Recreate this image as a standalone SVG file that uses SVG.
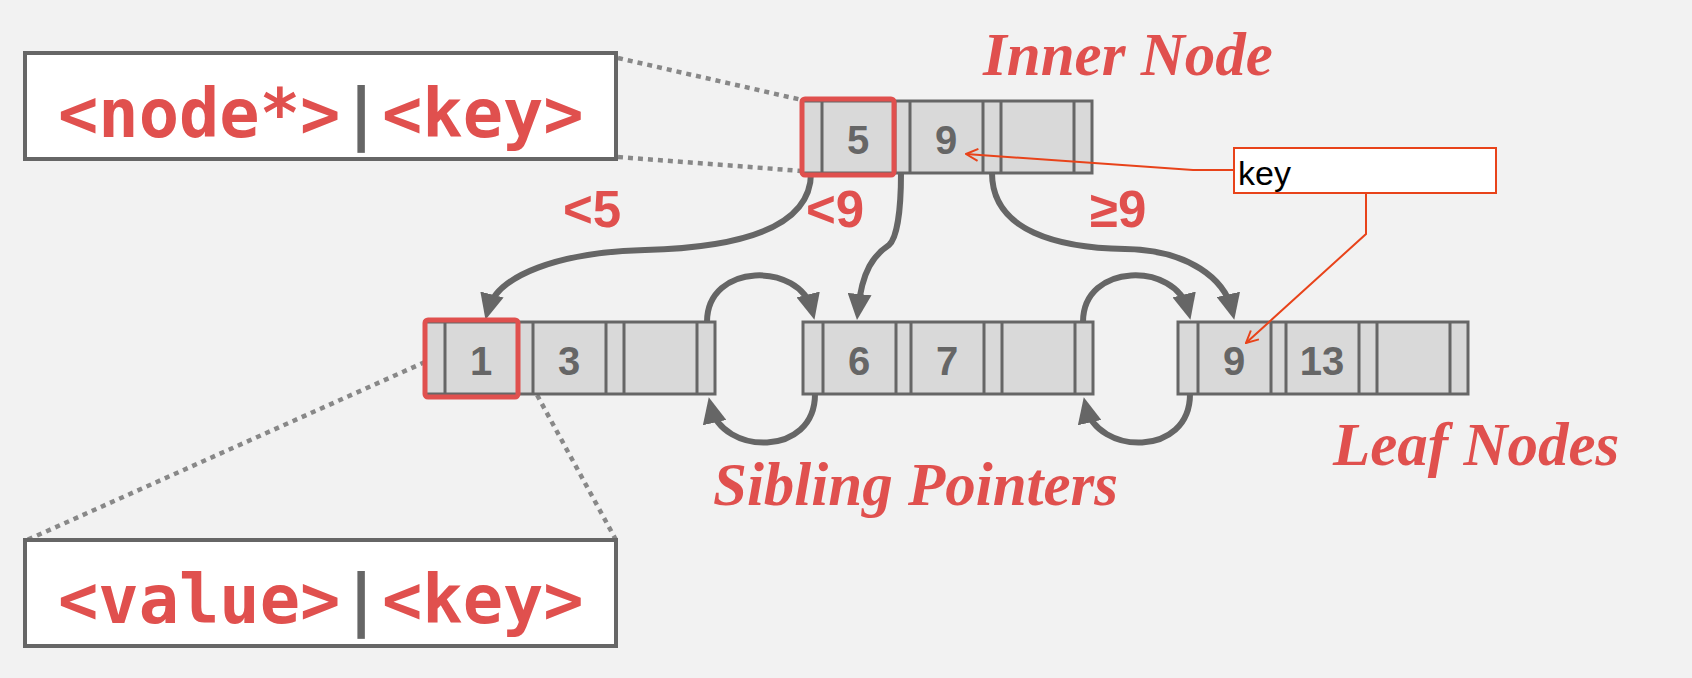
<svg xmlns="http://www.w3.org/2000/svg" width="1692" height="678" viewBox="0 0 1692 678">
<style>
.bg{fill:#f2f2f2}
.cell{fill:#d9d9d9;stroke:#666;stroke-width:3}
.div{stroke:#666;stroke-width:3}
.num{font-family:"Liberation Sans",Arial,sans-serif;font-weight:bold;font-size:40px;fill:#666;text-anchor:middle}
.hl{fill:none;stroke:#e0504e;stroke-width:5}
.conn{fill:none;stroke:#666;stroke-width:6}
.dot{fill:none;stroke:#888;stroke-width:4.5;stroke-dasharray:5 5}
.title{font-family:"Liberation Serif","Times New Roman",serif;font-weight:bold;font-style:italic;font-size:61px;fill:#e0504e}
.lbl{font-family:"Liberation Sans",Arial,sans-serif;font-weight:bold;font-size:51px;fill:#e0504e}
.box{fill:#fff;stroke:#666;stroke-width:4}
.mono{font-family:"DejaVu Sans Mono","Liberation Mono",monospace;font-weight:bold;font-size:67px;fill:#e0504e}
.bar{font-family:"DejaVu Sans Mono","Liberation Mono",monospace;font-weight:bold;font-size:67px;fill:#666}
.note{fill:#fff;stroke:#e8431a;stroke-width:2}
.noteline{fill:none;stroke:#e8431a;stroke-width:2}
.notetext{font-family:"Liberation Sans",Arial,sans-serif;font-size:34px;fill:#000}
</style>
<defs>
<marker id="arr" viewBox="0 0 26 24" markerWidth="26" markerHeight="24" refX="16" refY="12" orient="auto" markerUnits="userSpaceOnUse">
<path d="M0,0 L26,12 L0,24 Z" fill="#666"/>
</marker>
<marker id="arrO" viewBox="0 0 14 14" markerWidth="14" markerHeight="14" refX="13" refY="7" orient="auto" markerUnits="userSpaceOnUse">
<path d="M1,1 L13,7 L1,13" fill="none" stroke="#e8431a" stroke-width="2"/>
</marker>
<g id="bnode">
<rect class="cell" x="0" y="0" width="290" height="72"/>
<path class="div" d="M20,0V72M93,0V72M108,0V72M181,0V72M199,0V72M272,0V72"/>
</g>
</defs>
<rect class="bg" x="0" y="0" width="1692" height="678"/>

<g id="dotted-guides">
<path class="dot" d="M618,58 L802,100"/>
<path class="dot" d="M618,157 L802,171"/>
<path class="dot" d="M425,362 L27,540"/>
<path class="dot" d="M518,360 L616,540"/>
</g>

<g id="box-inner-entry">
<rect class="box" x="25" y="53" width="591" height="106"/>
<text class="mono" x="58" y="137">&lt;node*&gt;</text>
<text class="bar" x="341" y="137">|</text>
<text class="mono" x="382" y="137">&lt;key&gt;</text>
</g>

<g id="box-leaf-entry">
<rect class="box" x="25" y="540" width="591" height="106"/>
<text class="mono" x="58" y="623">&lt;value&gt;</text>
<text class="bar" x="341" y="623">|</text>
<text class="mono" x="382" y="623">&lt;key&gt;</text>
</g>

<g id="connectors">
<path class="conn" marker-end="url(#arr)" d="M811,173 C811,235 720,248 645,250 C560,252 497,275 488,310"/>
<path class="conn" marker-end="url(#arr)" d="M901,173 C901,210 897,238 889,245 C874,255 862,270 858,310"/>
<path class="conn" marker-end="url(#arr)" d="M992,173 C992,232 1060,248 1125,249 C1190,250 1225,280 1232,310"/>
<path class="conn" marker-end="url(#arr)" d="M707,322 C707,262 800,262 812,310"/>
<path class="conn" marker-end="url(#arr)" d="M1083,322 C1083,262 1176,262 1188,310"/>
<path class="conn" marker-end="url(#arr)" d="M815,394 C815,458 722,455 711,407"/>
<path class="conn" marker-end="url(#arr)" d="M1190,394 C1190,458 1097,455 1086,407"/>
</g>

<g id="node-inner">
<use href="#bnode" x="802" y="101"/>
<text class="num" x="858" y="154">5</text>
<text class="num" x="946" y="154">9</text>
<rect class="hl" x="802" y="99" width="92" height="76" rx="3"/>
</g>

<g id="node-leaf1">
<use href="#bnode" x="425" y="322"/>
<text class="num" x="481" y="375">1</text>
<text class="num" x="569" y="375">3</text>
<rect class="hl" x="425" y="320" width="93" height="77" rx="3"/>
</g>

<g id="node-leaf2">
<use href="#bnode" x="803" y="322"/>
<text class="num" x="859" y="375">6</text>
<text class="num" x="947" y="375">7</text>
</g>

<g id="node-leaf3">
<use href="#bnode" x="1178" y="322"/>
<text class="num" x="1234" y="375">9</text>
<text class="num" x="1322" y="375">13</text>
</g>

<g id="labels">
<text class="title" x="983" y="75">Inner Node</text>
<text class="title" x="713" y="505">Sibling Pointers</text>
<text class="title" x="1333" y="465">Leaf Nodes</text>
<text class="lbl" x="563" y="227">&lt;5</text>
<text class="lbl" x="806" y="227">&lt;9</text>
<text class="lbl" x="1090" y="227">≥9</text>
</g>

<g id="node-key-note">
<polyline class="noteline" marker-end="url(#arrO)" points="1234,170 1193,170 966,154"/>
<polyline class="noteline" marker-end="url(#arrO)" points="1366,193 1366,234 1246,343"/>
<rect class="note" x="1234" y="148" width="262" height="45"/>
<text class="notetext" x="1238" y="185">key</text>
</g>
</svg>
